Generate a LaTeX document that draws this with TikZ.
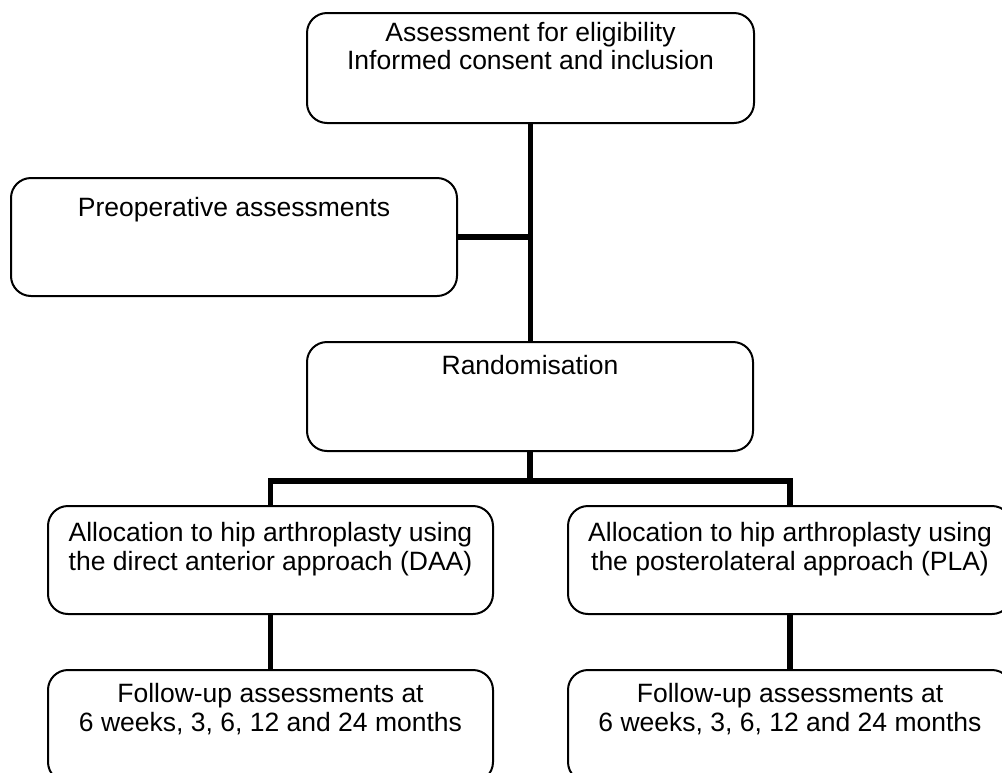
\documentclass[tikz,border=0pt]{standalone}
\usepackage{fontspec}
\setmainfont{Liberation Sans}
\begin{document}
\begin{tikzpicture}[x=1pt,y=-1pt,
  box/.style={draw=black, line width=2pt, rounded corners=20pt, fill=white, inner sep=0pt},
  lbl/.style={inner sep=0pt, anchor=base, font=\fontsize{26.5}{29}\selectfont},
  conn/.style={draw=black, line width=5.5pt, line cap=butt, line join=miter}]
\clip (0,0) rectangle (1002,772);
\fill[white] (0,0) rectangle (1002,772);
% boxes
\node[box, minimum width=447pt, minimum height=110pt] (top) at (530.5,68) {};
\node[box, minimum width=446pt, minimum height=118pt] (preop) at (234,237) {};
\node[box, minimum width=446pt, minimum height=109pt] (rand) at (530,396.5) {};
\node[box, minimum width=445pt, minimum height=108pt] (allocL) at (270.5,560) {};
\node[box, minimum width=444pt, minimum height=108pt] (allocR) at (790,560) {};
\node[box, minimum width=445pt, minimum height=112pt] (fuL) at (270.5,726) {};
\node[box, minimum width=444pt, minimum height=112pt] (fuR) at (790,726) {};
% connectors
\coordinate (split) at (530,481);
\draw[conn] (top.south) -- (top.south |- rand.north);
\draw[conn] (preop.east) -- (preop.east -| top.south);
\draw[conn] (rand.south) -- (rand.south |- split);
\draw[conn] (allocL.north) -- (allocL.north |- split) -- (allocR.north |- split) -- (allocR.north);
\draw[conn] (allocL.south) -- (fuL.north);
\draw[conn] (allocR.south) -- (fuR.north);
% texts
\node[lbl] (t1a) at (530.5,41) {Assessment for eligibility};
\node[lbl] (t1b) at (530.5,69) {Informed consent and inclusion};
\node[lbl] (t2) at (234,216) {Preoperative assessments};
\node[lbl] (t3) at (530,374) {Randomisation};
\node[lbl] (t4a) at (270.5,541) {Allocation to hip arthroplasty using};
\node[lbl] (t4b) at (270.5,570) {the direct anterior approach (DAA)};
\node[lbl] (t5a) at (790,541) {Allocation to hip arthroplasty using};
\node[lbl] (t5b) at (790,570) {the posterolateral approach (PLA)};
\node[lbl] (t6a) at (270.5,702) {Follow-up assessments at};
\node[lbl] (t6b) at (270.5,731) {6 weeks, 3, 6, 12 and 24 months};
\node[lbl] (t7a) at (790,702) {Follow-up assessments at};
\node[lbl] (t7b) at (790,731) {6 weeks, 3, 6, 12 and 24 months};
\end{tikzpicture}
\end{document}
